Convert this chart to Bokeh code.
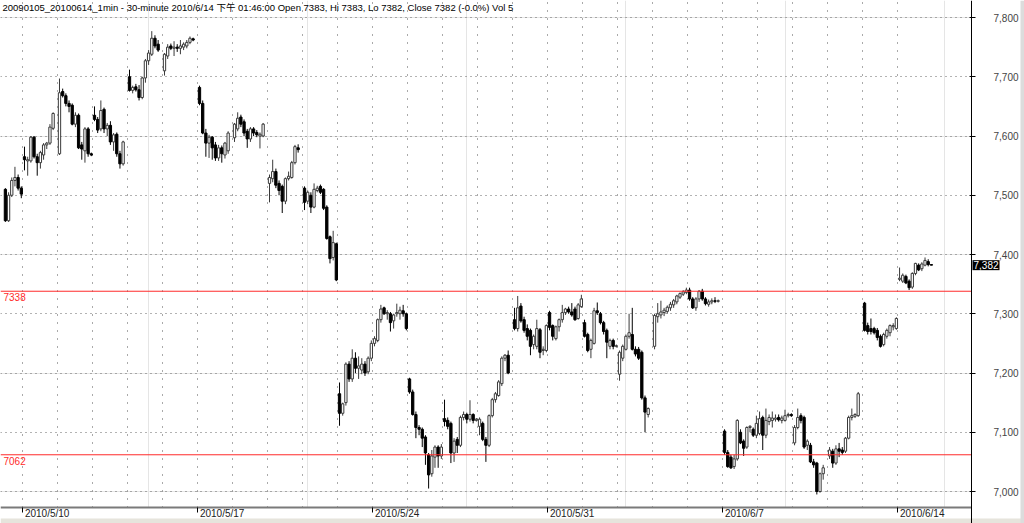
from bokeh.plotting import figure
from bokeh.models import (ColumnDataSource, FixedTicker, NumeralTickFormatter, Label,
                          LinearAxis, Grid, BoxAnnotation)
from bokeh.embed import file_html
from bokeh.resources import INLINE

TITLE = "20090105_20100614_1min - 30-minute 2010/6/14 下午 01:46:00 Open 7383, Hi 7383, Lo 7382, Close 7382 (-0.0%) Vol 5"

# 30-minute bars (open, high, low, close), one list per trading day
d0507 = [(7510, 7512, 7455, 7457), (7457, 7505, 7455, 7500), (7500, 7530, 7497, 7525),
         (7525, 7548, 7515, 7530), (7530, 7535, 7508, 7512), (7512, 7515, 7495, 7502)]
d0510 = [(7565, 7582, 7542, 7560), (7558, 7565, 7533, 7560), (7558, 7600, 7555, 7598),
         (7598, 7600, 7562, 7565), (7565, 7570, 7533, 7555), (7555, 7575, 7545, 7572),
         (7568, 7588, 7560, 7585), (7585, 7590, 7578, 7588), (7588, 7620, 7585, 7615),
         (7613, 7640, 7610, 7638)]
d0511 = [(7570, 7697, 7568, 7673), (7675, 7680, 7665, 7668), (7668, 7672, 7650, 7655),
         (7655, 7660, 7640, 7650), (7652, 7655, 7618, 7620), (7620, 7640, 7615, 7635),
         (7635, 7638, 7578, 7580), (7585, 7590, 7560, 7578), (7575, 7615, 7555, 7612),
         (7612, 7615, 7565, 7570), (7570, 7572, 7566, 7568)]
d0512 = [(7635, 7650, 7625, 7628), (7628, 7632, 7605, 7610), (7612, 7660, 7608, 7643),
         (7645, 7648, 7605, 7612), (7612, 7622, 7600, 7618), (7618, 7625, 7585, 7590),
         (7590, 7605, 7575, 7602), (7603, 7606, 7565, 7570), (7570, 7575, 7545, 7553),
         (7553, 7592, 7550, 7590)]
d0513 = [(7700, 7712, 7675, 7677), (7677, 7685, 7672, 7682), (7683, 7688, 7675, 7678),
         (7678, 7686, 7660, 7665), (7665, 7700, 7662, 7698), (7698, 7730, 7690, 7727),
         (7727, 7745, 7720, 7740), (7738, 7777, 7735, 7765), (7765, 7770, 7748, 7752),
         (7755, 7762, 7742, 7745)]
d0514 = [(7710, 7740, 7702, 7738), (7735, 7755, 7730, 7750), (7752, 7756, 7745, 7748),
         (7748, 7760, 7735, 7750), (7750, 7755, 7742, 7748), (7748, 7762, 7738, 7752),
         (7750, 7758, 7745, 7755), (7752, 7762, 7748, 7758), (7758, 7768, 7755, 7765),
         (7764, 7766, 7760, 7762)]
d0517 = [(7682, 7685, 7652, 7655), (7655, 7660, 7603, 7605), (7605, 7612, 7565, 7588),
         (7588, 7602, 7563, 7598), (7598, 7600, 7560, 7580), (7585, 7590, 7558, 7563),
         (7563, 7585, 7558, 7580), (7580, 7584, 7555, 7570), (7568, 7590, 7562, 7588),
         (7575, 7608, 7570, 7605)]
d0518 = [(7597, 7622, 7590, 7620), (7612, 7640, 7608, 7630), (7632, 7636, 7615, 7620),
         (7624, 7628, 7600, 7605), (7608, 7612, 7580, 7595), (7595, 7615, 7590, 7612),
         (7612, 7615, 7600, 7605), (7606, 7610, 7598, 7602), (7600, 7606, 7579, 7603),
         (7600, 7622, 7598, 7620)]
d0519 = [(7520, 7535, 7488, 7530), (7528, 7560, 7522, 7540), (7540, 7545, 7512, 7517),
         (7520, 7525, 7500, 7508), (7515, 7518, 7470, 7490), (7490, 7530, 7485, 7528),
         (7528, 7540, 7525, 7532), (7530, 7558, 7528, 7555), (7555, 7585, 7552, 7582),
         (7580, 7586, 7572, 7577)]
d0520 = [(7512, 7515, 7475, 7488), (7490, 7508, 7485, 7505), (7500, 7505, 7470, 7480),
         (7480, 7520, 7478, 7510), (7508, 7516, 7505, 7512), (7515, 7518, 7502, 7505),
         (7510, 7512, 7475, 7478), (7480, 7483, 7425, 7427), (7430, 7432, 7385, 7393),
         (7395, 7440, 7390, 7420), (7418, 7420, 7355, 7357)]
d0521 = [(7165, 7184, 7111, 7132), (7132, 7150, 7128, 7148), (7150, 7218, 7145, 7215),
         (7215, 7220, 7185, 7190), (7190, 7240, 7185, 7225), (7225, 7235, 7200, 7208),
         (7208, 7228, 7190, 7212), (7205, 7225, 7198, 7215), (7215, 7220, 7195, 7200),
         (7202, 7228, 7198, 7225), (7225, 7255, 7220, 7250)]
d0524 = [(7250, 7262, 7245, 7258), (7255, 7292, 7252, 7290), (7290, 7315, 7285, 7308),
         (7310, 7312, 7298, 7300), (7300, 7306, 7290, 7302), (7300, 7303, 7270, 7285),
         (7288, 7300, 7275, 7298), (7300, 7317, 7295, 7302), (7300, 7312, 7290, 7306),
         (7305, 7315, 7295, 7300), (7300, 7302, 7272, 7275)]
d0525 = [(7190, 7192, 7165, 7168), (7168, 7172, 7128, 7130), (7130, 7135, 7090, 7108),
         (7108, 7112, 7095, 7105), (7105, 7108, 7075, 7090), (7092, 7095, 7045, 7065),
         (7062, 7065, 7005, 7028), (7030, 7070, 7025, 7060), (7058, 7078, 7040, 7075),
         (7075, 7078, 7040, 7060), (7060, 7080, 7055, 7075)]
d0526 = [(7123, 7155, 7110, 7118), (7120, 7125, 7105, 7110), (7115, 7118, 7048, 7065),
         (7065, 7090, 7050, 7085), (7088, 7092, 7065, 7078), (7078, 7128, 7075, 7125),
         (7125, 7135, 7120, 7130), (7130, 7133, 7115, 7122), (7122, 7154, 7118, 7130),
         (7130, 7132, 7115, 7120), (7120, 7124, 7118, 7122)]
d0527 = [(7110, 7125, 7095, 7122), (7115, 7118, 7085, 7088), (7088, 7092, 7050, 7078),
         (7078, 7130, 7075, 7128), (7128, 7158, 7125, 7155), (7155, 7168, 7150, 7165),
         (7162, 7188, 7160, 7185), (7182, 7228, 7178, 7225), (7225, 7232, 7220, 7230),
         (7230, 7238, 7198, 7200)]
d0528 = [(7290, 7310, 7272, 7275), (7275, 7330, 7270, 7310), (7313, 7318, 7285, 7288),
         (7290, 7295, 7268, 7272), (7275, 7282, 7255, 7262), (7272, 7275, 7230, 7245),
         (7248, 7265, 7240, 7262), (7245, 7290, 7240, 7275), (7273, 7276, 7225, 7235),
         (7238, 7245, 7230, 7240), (7238, 7282, 7235, 7280)]
d0531 = [(7302, 7305, 7272, 7277), (7280, 7282, 7255, 7262), (7258, 7280, 7255, 7278),
         (7278, 7292, 7270, 7290), (7290, 7315, 7285, 7302), (7302, 7310, 7298, 7308),
         (7308, 7312, 7300, 7303), (7303, 7318, 7295, 7298), (7308, 7312, 7288, 7290),
         (7292, 7318, 7290, 7315), (7312, 7332, 7310, 7325)]
d0601 = [(7285, 7290, 7260, 7262), (7265, 7268, 7235, 7238), (7240, 7258, 7225, 7255),
         (7250, 7310, 7248, 7305), (7305, 7319, 7298, 7302), (7300, 7303, 7282, 7285),
         (7285, 7288, 7265, 7270), (7272, 7275, 7225, 7252), (7245, 7258, 7240, 7255),
         (7255, 7258, 7240, 7245), (7245, 7248, 7243, 7246)]
d0602 = [(7198, 7238, 7187, 7235), (7225, 7248, 7220, 7245), (7240, 7265, 7238, 7262),
         (7262, 7300, 7258, 7268), (7265, 7310, 7238, 7240), (7240, 7245, 7228, 7232),
         (7240, 7244, 7222, 7225), (7235, 7238, 7155, 7158), (7158, 7162, 7100, 7134),
         (7130, 7142, 7125, 7140)]
d0603 = [(7245, 7300, 7240, 7297), (7295, 7318, 7285, 7300), (7298, 7322, 7292, 7303),
         (7302, 7310, 7296, 7306), (7304, 7314, 7300, 7311), (7310, 7320, 7305, 7316),
         (7315, 7325, 7310, 7322), (7320, 7332, 7316, 7330), (7328, 7336, 7325, 7334),
         (7333, 7340, 7330, 7337), (7336, 7344, 7333, 7340)]
d0604 = [(7340, 7344, 7322, 7325), (7325, 7328, 7308, 7310), (7310, 7328, 7305, 7325),
         (7325, 7340, 7320, 7338), (7338, 7342, 7322, 7325), (7325, 7328, 7314, 7317),
         (7316, 7324, 7312, 7320), (7320, 7326, 7316, 7322), (7322, 7328, 7318, 7321),
         (7321, 7324, 7319, 7322)]
d0607 = [(7102, 7105, 7062, 7066), (7066, 7070, 7040, 7042), (7058, 7062, 7038, 7040),
         (7042, 7062, 7038, 7055), (7055, 7122, 7052, 7120), (7100, 7105, 7080, 7082),
         (7085, 7088, 7060, 7073), (7075, 7110, 7072, 7108), (7108, 7112, 7100, 7110),
         (7105, 7108, 7092, 7095), (7095, 7128, 7090, 7115)]
d0608 = [(7098, 7135, 7095, 7123), (7125, 7128, 7070, 7095), (7095, 7140, 7090, 7120),
         (7118, 7130, 7112, 7125), (7120, 7135, 7108, 7124), (7122, 7130, 7118, 7124),
         (7125, 7130, 7118, 7121), (7120, 7128, 7115, 7124), (7120, 7138, 7118, 7128),
         (7128, 7133, 7125, 7130), (7130, 7132, 7126, 7128)]
d0609 = [(7082, 7112, 7078, 7108), (7108, 7140, 7105, 7125), (7128, 7132, 7115, 7120),
         (7125, 7128, 7072, 7075), (7078, 7088, 7070, 7085), (7078, 7082, 7048, 7050),
         (7050, 7055, 7040, 7045), (7048, 7050, 6995, 7000), (7000, 7032, 6998, 7030),
         (7030, 7045, 7020, 7040)]
d0610 = [(7060, 7075, 7055, 7070), (7068, 7072, 7040, 7048), (7048, 7078, 7045, 7072),
         (7072, 7082, 7058, 7068), (7070, 7075, 7062, 7066), (7068, 7092, 7065, 7090),
         (7090, 7128, 7088, 7125), (7125, 7140, 7120, 7128), (7127, 7132, 7124, 7130),
         (7128, 7168, 7126, 7165)]
d0611 = [(7318, 7320, 7270, 7272), (7280, 7285, 7265, 7270), (7275, 7292, 7265, 7270),
         (7275, 7278, 7265, 7268), (7272, 7276, 7255, 7260), (7262, 7265, 7243, 7245),
         (7248, 7268, 7245, 7265), (7262, 7275, 7258, 7272), (7268, 7282, 7262, 7280),
         (7278, 7284, 7272, 7280), (7275, 7294, 7273, 7292)]
d0614 = [(7358, 7378, 7355, 7360), (7355, 7368, 7352, 7365), (7363, 7366, 7350, 7352),
         (7355, 7358, 7340, 7344), (7345, 7370, 7342, 7368), (7368, 7386, 7365, 7385),
         (7382, 7385, 7372, 7374), (7376, 7387, 7372, 7384), (7382, 7395, 7380, 7390),
         (7388, 7392, 7380, 7383), (7383, 7383, 7382, 7382)]

days = [d0507, d0510, d0511, d0512, d0513, d0514,
        d0517, d0518, d0519, d0520, d0521,
        d0524, d0525, d0526, d0527, d0528,
        d0531, d0601, d0602, d0603, d0604,
        d0607, d0608, d0609, d0610, d0611,
        d0614]

week_labels = ["2010/5/10", "2010/5/17", "2010/5/24", "2010/5/31", "2010/6/7", "2010/6/14"]
week_day_index = [1, 6, 11, 16, 21, 26]
price_ticks = [7000, 7100, 7200, 7300, 7400, 7500, 7600, 7700, 7800]
levels = [7338, 7062]
last_price = 7382

# layout constants (bar-index / price units)
BARS_PER_DAY = 11
X_START, X_END = 3.46, 325.26
AXIS_X = 308.6          # right price axis position
Y_START, Y_END = 6946.0, 7828.7
AXIS_Y = 6973.0         # bottom time axis position
STRIP_Y = 6954.4        # window tab strip at the very bottom
EDGE_X = 324.0          # window edge at the right
FONT = "Liberation Sans"

xs, tops, bottoms, highs, lows, fills, lines = [], [], [], [], [], [], []
for d, bars in enumerate(days):
    start = d * BARS_PER_DAY + (BARS_PER_DAY - len(bars) if d == 0 else 0)
    for i, (o, h, l, c) in enumerate(bars):
        up = c >= o
        xs.append(start + i)
        tops.append(max(o, c))
        bottoms.append(min(o, c))
        highs.append(h)
        lows.append(l)
        fills.append("white" if up else "black")
        lines.append("#3a3a3a" if up else "black")

src = ColumnDataSource(dict(x=xs, top=tops, bottom=bottoms, high=highs, low=lows,
                            fill=fills, line=lines))

p = figure(width=1024, height=523, output_backend="svg", toolbar_location=None,
           x_range=(X_START, X_END), y_range=(Y_START, Y_END),
           x_axis_location=None, y_axis_location=None, tools="")
p.min_border = 0
p.min_border_left = 0
p.min_border_right = 0
p.min_border_top = 0
p.min_border_bottom = 0
p.outline_line_color = None
p.background_fill_color = "white"
p.border_fill_color = "white"

# grids
day_bounds = [d * BARS_PER_DAY - 0.5 for d in range(1, len(days))]
week_ticks = [d * BARS_PER_DAY - 0.5 for d in week_day_index]
p.add_layout(Grid(dimension=0, ticker=FixedTicker(ticks=day_bounds),
                  grid_line_color="#555555", grid_line_dash="1 7"))
p.add_layout(Grid(dimension=1, ticker=FixedTicker(ticks=price_ticks),
                  grid_line_color="#666666", grid_line_dash="1 4"))

# keep the grid inside the chart area (right of price axis, below time axis)
p.add_layout(BoxAnnotation(left=AXIS_X, fill_color="white", fill_alpha=1,
                           line_color=None, level="underlay"))
p.add_layout(BoxAnnotation(top=AXIS_Y, fill_color="white", fill_alpha=1,
                           line_color=None, level="underlay"))
p.add_layout(BoxAnnotation(top=STRIP_Y, fill_color="#e6e4dc", fill_alpha=1,
                           line_color=None, level="underlay"))
p.add_layout(BoxAnnotation(left=EDGE_X, fill_color="#dcdcdc", fill_alpha=1,
                           line_color=None, level="underlay"))

# right price axis
yaxis = LinearAxis(fixed_location=AXIS_X, ticker=FixedTicker(ticks=price_ticks),
                   formatter=NumeralTickFormatter(format="0,0"))
yaxis.axis_line_color = "black"
yaxis.major_tick_line_color = "black"
yaxis.major_tick_in = 2
yaxis.major_tick_out = 4
yaxis.minor_tick_line_color = None
yaxis.major_label_standoff = 18
yaxis.major_label_text_font = FONT
yaxis.major_label_text_font_size = "10px"
yaxis.major_label_text_color = "#444444"
p.add_layout(yaxis, "right")

# bottom time axis (labels drawn separately, left-aligned at the ticks)
xaxis = LinearAxis(fixed_location=AXIS_Y, ticker=FixedTicker(ticks=week_ticks),
                   bounds=(X_START, AXIS_X))
xaxis.axis_line_color = "#7a7a7a"
xaxis.axis_line_width = 2
xaxis.major_tick_line_color = "black"
xaxis.major_tick_in = 0
xaxis.major_tick_out = 5
xaxis.minor_tick_line_color = None
xaxis.major_label_text_font_size = "1px"
xaxis.major_label_text_color = None
xaxis.major_label_standoff = 0
p.add_layout(xaxis, "below")

# candles
p.segment(x0="x", y0="low", x1="x", y1="high", line_color="line", line_width=1, source=src)
p.vbar(x="x", width=0.72, top="top", bottom="bottom", fill_color="fill",
       line_color="line", line_width=1, source=src)

# horizontal reference levels
lvl_src = ColumnDataSource(dict(y=levels, x0=[X_START] * len(levels), x1=[AXIS_X] * len(levels)))
p.segment(x0="x0", y0="y", x1="x1", y1="y", line_color="#ff2a2a", line_width=1, source=lvl_src)
for lv in levels:
    p.add_layout(Label(x=X_START, y=lv, x_offset=3, y_offset=-2, text=str(lv),
                       text_baseline="top", text_align="left",
                       text_font=FONT, text_font_size="10px",
                       text_color="#ff2a2a"))

# week labels below the axis
for t, lab in zip(week_ticks, week_labels):
    p.add_layout(Label(x=t, y=AXIS_Y, x_offset=2, y_offset=0, text=lab,
                       text_baseline="top", text_align="left",
                       text_font=FONT, text_font_size="10px",
                       text_color="#222222"))

# last price marker
p.add_layout(Label(x=AXIS_X, y=last_price, x_offset=1, text=f"{last_price:,}",
                   text_baseline="middle", text_align="left",
                   text_font=FONT, text_font_size="10px",
                   text_color="white", background_fill_color="black", padding=1))

# header text
p.add_layout(Label(x=X_START, y=Y_END, x_offset=2, y_offset=-1, text=TITLE,
                   text_baseline="top", text_align="left",
                   text_font="Liberation Sans, Noto Sans CJK TC",
                   text_font_size="9.5px", text_color="black"))

open("out.html", "w").write(file_html(p, INLINE))
